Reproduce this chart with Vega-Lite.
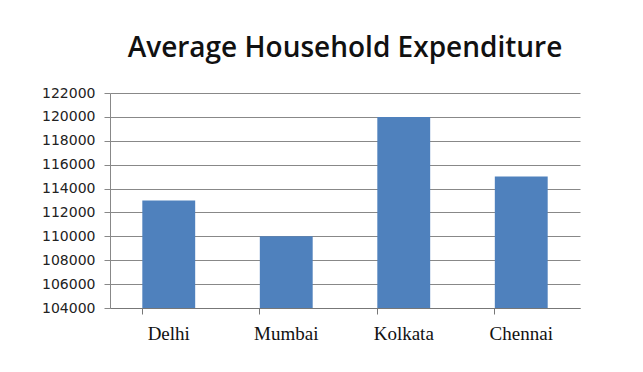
{
  "$schema": "https://vega.github.io/schema/vega-lite/v6.json",
  "autosize": "none",
  "padding": {"left": 110, "top": 93, "right": 63, "bottom": 64},
  "width": 470,
  "height": 215,
  "background": "white",
  "title": {
    "text": "Average Household Expenditure",
    "anchor": "middle",
    "font": "Open Sans",
    "fontSize": 28,
    "fontWeight": 600,
    "color": "#111111",
    "offset": 23
  },
  "data": {
    "values": [
      {"city": "Delhi", "value": 113000},
      {"city": "Mumbai", "value": 110000},
      {"city": "Kolkata", "value": 120000},
      {"city": "Chennai", "value": 115000}
    ]
  },
  "mark": {"type": "bar", "color": "#4F81BD", "clip": true},
  "encoding": {
    "x": {
      "field": "city",
      "type": "nominal",
      "sort": null,
      "scale": {"paddingInner": 0.55, "paddingOuter": 0.275},
      "axis": {
        "title": null,
        "labelAngle": 0,
        "labelFont": "Liberation Serif",
        "labelFontSize": 19,
        "labelColor": "#111111",
        "labelPadding": 10,
        "bandPosition": 0,
        "tickColor": "#777777",
        "tickSize": 6,
        "domainColor": "#777777",
        "grid": false
      }
    },
    "y": {
      "field": "value",
      "type": "quantitative",
      "scale": {"domain": [104000, 122000], "zero": false, "nice": false},
      "axis": {
        "title": null,
        "values": [104000, 106000, 108000, 110000, 112000, 114000, 116000, 118000, 120000, 122000],
        "format": "d",
        "labelFont": "DejaVu Sans",
        "labelFontSize": 14,
        "labelColor": "#222222",
        "labelPadding": 9,
        "tickColor": "#888888",
        "tickSize": 6,
        "domainColor": "#888888",
        "gridColor": "#888888",
        "gridWidth": 1
      }
    }
  },
  "config": {"view": {"stroke": null}}
}
